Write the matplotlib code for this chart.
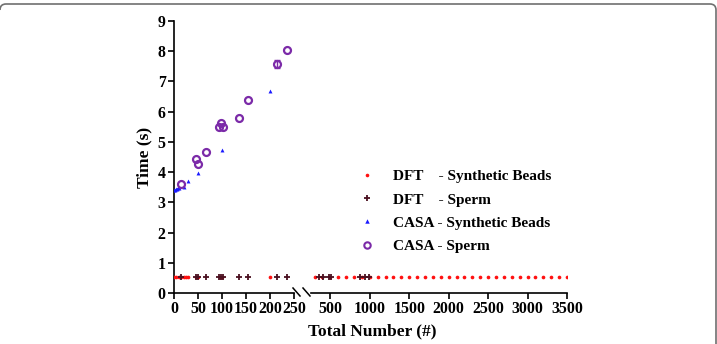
import numpy as np
import matplotlib.pyplot as plt
from matplotlib.lines import Line2D
from matplotlib.patches import PathPatch
from matplotlib.path import Path
from matplotlib.transforms import IdentityTransform

# data
dft_beads_x = [0, 5, 10, 15, 20, 25, 30, 45, 50, 95, 100, 200,
               300, 400, 500, 600, 700, 800, 900, 1000, 1100, 1200, 1300, 1400,
               1500, 1600, 1700, 1800, 1900, 2000, 2100, 2200, 2300, 2400, 2500,
               2600, 2700, 2800, 2900, 3000, 3100, 3200, 3300, 3400, 3500]
dft_beads_y = [0.52] * len(dft_beads_x)

dft_sperm_x = [14, 46, 49, 66, 94, 97, 103, 135, 155, 215, 235,
               360, 406, 478, 509, 880, 935, 986]
dft_sperm_y = [0.53] * len(dft_sperm_x)

casa_beads_x = [0, 2, 4, 6, 8, 10, 20, 30, 50, 100, 200]
casa_beads_y = [3.40, 3.41, 3.43, 3.44, 3.46, 3.48, 3.52, 3.72, 3.96, 4.72, 6.70]

casa_sperm_x = [14, 46, 49, 66, 94, 97, 103, 135, 155, 215, 235]
casa_sperm_y = [3.60, 4.44, 4.27, 4.65, 5.50, 5.62, 5.50, 5.78, 6.37, 7.57, 8.03]
casa_sperm_err = [0, 0, 0, 0, 0, 0, 0, 0, 0, 0.14, 0]

plt.rcParams['font.family'] = ['Liberation Serif', 'DejaVu Serif']
plt.rcParams['font.weight'] = 'bold'

fig = plt.figure(figsize=(7.17, 3.44), dpi=100)

# frame around the figure: only the top edge (rounded corners) and right edge show
verts = [(0, 334), (0, 340), (6, 340), (710, 340), (716, 340), (716, 334), (716, 0)]
codes = [Path.MOVETO, Path.CURVE3, Path.CURVE3, Path.LINETO, Path.CURVE3, Path.CURVE3, Path.LINETO]
fig.patches.append(PathPatch(Path(verts, codes), transform=IdentityTransform(),
                             fill=False, edgecolor='#707070', lw=1.2))

ax1 = fig.add_axes([174 / 717, 51 / 344, 120 / 717, 272 / 344])
ax2 = fig.add_axes([311 / 717, 51 / 344, 256 / 717, 272 / 344], sharey=ax1)

red = '#ff1010'
maroon = '#4a1020'
blue = '#1a1aff'
purple = '#7b2aa8'

ranges = [(ax1, 0, 250), (ax2, 255, 3500)]
for ax, lo, hi in ranges:
    bx = np.array(dft_beads_x); by = np.array(dft_beads_y)
    m = (bx >= lo) & (bx <= hi)
    ax.scatter(bx[m], by[m], s=7, color=red, marker='o', lw=0, zorder=3)
    sx = np.array(dft_sperm_x); sy = np.array(dft_sperm_y)
    m = (sx >= lo) & (sx <= hi)
    ax.scatter(sx[m], sy[m], s=24, color=maroon, marker='+', linewidths=1.3, zorder=4)

ax1.scatter(casa_beads_x, casa_beads_y, s=8, color=blue, marker='^', lw=0, zorder=3)

cx = np.array(casa_sperm_x); cy = np.array(casa_sperm_y); ce = np.array(casa_sperm_err)
ax1.plot(cx, cy, ls='none', marker='o', ms=5, mfc='none', mec=purple, mew=1.6, zorder=4)
m = ce > 0
ax1.errorbar(cx[m], cy[m], yerr=ce[m], fmt='none', ecolor=purple, elinewidth=1,
             capsize=2.5, capthick=1, zorder=4)

ax1.set_xlim(0, 250)
ax1.set_ylim(0, 9)
ax1.set_xticks([0, 50, 100, 150, 200, 250])
ax1.set_yticks(range(10))
ax2.set_xlim(255, 3500)
ax2.set_xticks([500, 1000, 1500, 2000, 2500, 3000, 3500])

for ax in (ax1, ax2):
    ax.spines['top'].set_visible(False)
    ax.spines['right'].set_visible(False)
    ax.spines['bottom'].set_linewidth(1.2)
    ax.tick_params(direction='out', length=4, width=1.2, labelsize=11.4, pad=2)
    for lab in ax.get_xticklabels() + ax.get_yticklabels():
        lab.set_fontweight('bold')
ax1.spines['left'].set_linewidth(1.2)
ax2.spines['left'].set_visible(False)
ax2.tick_params(axis='y', left=False, labelleft=False)

ax1.set_ylabel('Time (s)', fontsize=12.5, fontweight='bold', labelpad=4)
fig.text(372 / 717, 13 / 344, 'Total Number (#)', ha='center', va='center',
         fontsize=12.5, fontweight='bold')

# axis break marks
for x0 in (293, 303):
    fig.add_artist(Line2D([x0 / 717, (x0 + 7) / 717], [(344 - 288) / 344, (344 - 296) / 344],
                          transform=fig.transFigure, color='black', lw=1.1))

handles = [
    Line2D([], [], ls='none', marker='o', ms=2.6, mew=0, color=red),
    Line2D([], [], ls='none', marker='+', ms=5, mew=1.3, color=maroon),
    Line2D([], [], ls='none', marker='^', ms=3.2, mew=0, color=blue),
    Line2D([], [], ls='none', marker='o', ms=4.6, mfc='none', mec=purple, mew=1.5),
]
labels = ['DFT    - Synthetic Beads', 'DFT    - Sperm', 'CASA - Synthetic Beads', 'CASA - Sperm']
leg = fig.legend(handles, labels, loc='upper left', bbox_to_anchor=(346 / 717, (344 - 156) / 344),
                 frameon=False, handlelength=1.0, handletextpad=1.2, labelspacing=0.62,
                 prop={'family': 'Liberation Serif', 'weight': 'bold', 'size': 11})

fig.savefig('out.png', dpi=100)
